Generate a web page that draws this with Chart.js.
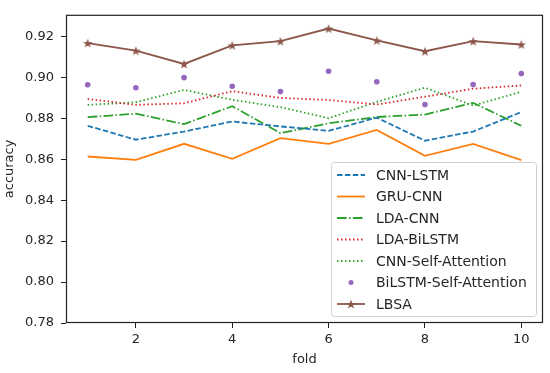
<!DOCTYPE html>
<html>
<head>
<meta charset="utf-8">
<script src="https://cdn.jsdelivr.net/npm/chart.js@4.4.1/dist/chart.umd.min.js"></script>
<style>
  html, body { margin: 0; padding: 0; background: #fff; }
</style>
</head>
<body>
<canvas id="chart" width="550" height="373"></canvas>
<script>
// data
const folds = [1, 2, 3, 4, 5, 6, 7, 8, 9, 10];
const cnnLstm = [0.8763, 0.8695, 0.8735, 0.8784, 0.8760, 0.8738, 0.8803, 0.8690, 0.8735, 0.8830];
const gruCnn = [0.8613, 0.8597, 0.8675, 0.8602, 0.8703, 0.8675, 0.8743, 0.8616, 0.8675, 0.8595];
const ldaCnn = [0.8805, 0.8822, 0.8771, 0.8859, 0.8727, 0.8775, 0.8806, 0.8818, 0.8875, 0.8763];
const ldaBilstm = [0.8894, 0.8865, 0.8873, 0.8932, 0.8899, 0.8889, 0.8867, 0.8905, 0.8944, 0.8960];
const cnnSelfAtt = [0.8865, 0.8878, 0.8938, 0.8890, 0.8854, 0.8800, 0.8880, 0.8949, 0.8862, 0.8929];
const bilstmSelfAtt = [0.8963, 0.8949, 0.8998, 0.8956, 0.8930, 0.9029, 0.8978, 0.8867, 0.8965, 0.9018];
const lbsa = [0.9167, 0.9130, 0.9065, 0.9156, 0.9176, 0.9238, 0.9180, 0.9127, 0.9176, 0.9160];
const xTicks = [2, 4, 6, 8, 10];
const yTicks = [0.78, 0.80, 0.82, 0.84, 0.86, 0.88, 0.90, 0.92];

const FONT = "'DejaVu Sans', sans-serif";
const TEXT = '#262626';

function toPoints(vals) {
  return folds.map((f, i) => ({ x: f, y: vals[i] }));
}

// filled 5-point star like matplotlib's '*'
function makeStar(size, color) {
  const c = document.createElement('canvas');
  c.width = size; c.height = size;
  const g = c.getContext('2d');
  const cx = size / 2, cy = size / 2 + 0.5;
  const ro = size / 2, ri = ro * 0.4;
  g.beginPath();
  for (let i = 0; i < 10; i++) {
    const r = i % 2 ? ri : ro;
    const a = -Math.PI / 2 + i * Math.PI / 5;
    const px = cx + r * Math.cos(a), py = cy + r * Math.sin(a);
    if (i === 0) g.moveTo(px, py); else g.lineTo(px, py);
  }
  g.closePath();
  g.fillStyle = color;
  g.fill();
  return c;
}
const starImg = makeStar(10, '#8c564b');

const lineDs = (label, vals, color, dash) => ({
  label, data: toPoints(vals), borderColor: color, backgroundColor: color,
  borderWidth: 1.8, borderDash: dash, pointRadius: 0, showLine: true, tension: 0
});

const datasets = [
  lineDs('CNN-LSTM', cnnLstm, '#1f77b4', [5.5, 2.4]),
  lineDs('GRU-CNN', gruCnn, '#ff7f0e', []),
  lineDs('LDA-CNN', ldaCnn, '#2ca02c', [9.6, 2.4, 1.5, 2.4]),
  lineDs('LDA-BiLSTM', ldaBilstm, '#d62728', [1.5, 2.5]),
  lineDs('CNN-Self-Attention', cnnSelfAtt, '#2ca02c', [1.5, 2.5]),
  {
    label: 'BiLSTM-Self-Attention', data: toPoints(bilstmSelfAtt),
    borderColor: '#9467bd', backgroundColor: '#9467bd', showLine: false,
    pointRadius: 2.8, pointBorderWidth: 0
  },
  {
    label: 'LBSA', data: toPoints(lbsa), borderColor: '#8c564b', backgroundColor: '#8c564b',
    borderWidth: 1.8, showLine: true, pointStyle: starImg, pointRadius: 5
  }
];

// matplotlib-like frame round the axes
const framePlugin = {
  id: 'frame',
  afterDatasetsDraw(chart) {
    const { ctx, chartArea: a } = chart;
    ctx.save();
    ctx.strokeStyle = '#222';
    ctx.lineWidth = 1.2;
    ctx.strokeRect(a.left + 0.5, a.top + 0.5, a.right - a.left - 1, a.bottom - a.top - 1);
    ctx.restore();
  }
};

// legend drawn inside the axes, lower right
const legendPlugin = {
  id: 'innerLegend',
  afterDraw(chart) {
    const { ctx, chartArea: a } = chart;
    const w = 205, h = 154;
    const x0 = a.right - 7 - w, y0 = a.bottom - 7 - h;
    ctx.save();
    ctx.beginPath();
    ctx.roundRect(x0 + 0.5, y0 + 0.5, w, h, 3);
    ctx.fillStyle = 'rgba(255,255,255,0.8)';
    ctx.fill();
    ctx.strokeStyle = '#d0d0d0';
    ctx.lineWidth = 1;
    ctx.stroke();
    ctx.font = '14px ' + FONT;
    ctx.textBaseline = 'middle';
    chart.data.datasets.forEach((ds, i) => {
      const y = y0 + 13 + i * 21.5;
      const lx0 = x0 + 6, lx1 = x0 + 34;
      if (ds.showLine) {
        ctx.beginPath();
        ctx.setLineDash(ds.borderDash || []);
        ctx.strokeStyle = ds.borderColor;
        ctx.lineWidth = ds.borderWidth;
        ctx.moveTo(lx0, y); ctx.lineTo(lx1, y);
        ctx.stroke();
        ctx.setLineDash([]);
      }
      if (ds.pointStyle instanceof HTMLCanvasElement) {
        ctx.drawImage(ds.pointStyle, (lx0 + lx1) / 2 - 5, y - 5);
      } else if (!ds.showLine) {
        ctx.beginPath();
        ctx.arc((lx0 + lx1) / 2, y, 2.5, 0, Math.PI * 2);
        ctx.fillStyle = ds.backgroundColor;
        ctx.fill();
      }
      ctx.fillStyle = TEXT;
      ctx.fillText(ds.label, x0 + 45, y + 1);
    });
    ctx.restore();
  }
};

new Chart(document.getElementById('chart'), {
  type: 'scatter',
  data: { datasets },
  options: {
    responsive: false,
    animation: false,
    devicePixelRatio: 1,
    layout: { padding: { top: 8, right: 7, left: 0, bottom: 0 } },
    plugins: { legend: { display: false }, tooltip: { enabled: false } },
    scales: {
      x: {
        type: 'linear', min: 0.55, max: 10.45,
        afterBuildTicks: s => { s.ticks = xTicks.map(v => ({ value: v })); },
        afterFit: s => { s.height = 50; },
        grid: { drawOnChartArea: false, drawTicks: true, tickLength: 5, color: '#222' },
        border: { display: false },
        ticks: { color: TEXT, font: { family: FONT, size: 13 }, padding: 4, maxRotation: 0,
                 callback: v => String(v) },
        title: { display: true, text: 'fold', color: TEXT, font: { family: FONT, size: 13 },
                 padding: { top: 0, bottom: 6 } }
      },
      y: {
        type: 'linear', min: 0.78, max: 0.9305,
        afterBuildTicks: s => { s.ticks = yTicks.map(v => ({ value: v })); },
        afterFit: s => { s.width = 66; },
        grid: { drawOnChartArea: false, drawTicks: true, tickLength: 5, color: '#222' },
        border: { display: false },
        ticks: { color: TEXT, font: { family: FONT, size: 13 }, padding: 7,
                 callback: v => v.toFixed(2) },
        title: { display: true, text: 'accuracy', color: TEXT, font: { family: FONT, size: 13 },
                 padding: { top: 2, bottom: 0 } }
      }
    }
  },
  plugins: [framePlugin, legendPlugin]
});
</script>
</body>
</html>
